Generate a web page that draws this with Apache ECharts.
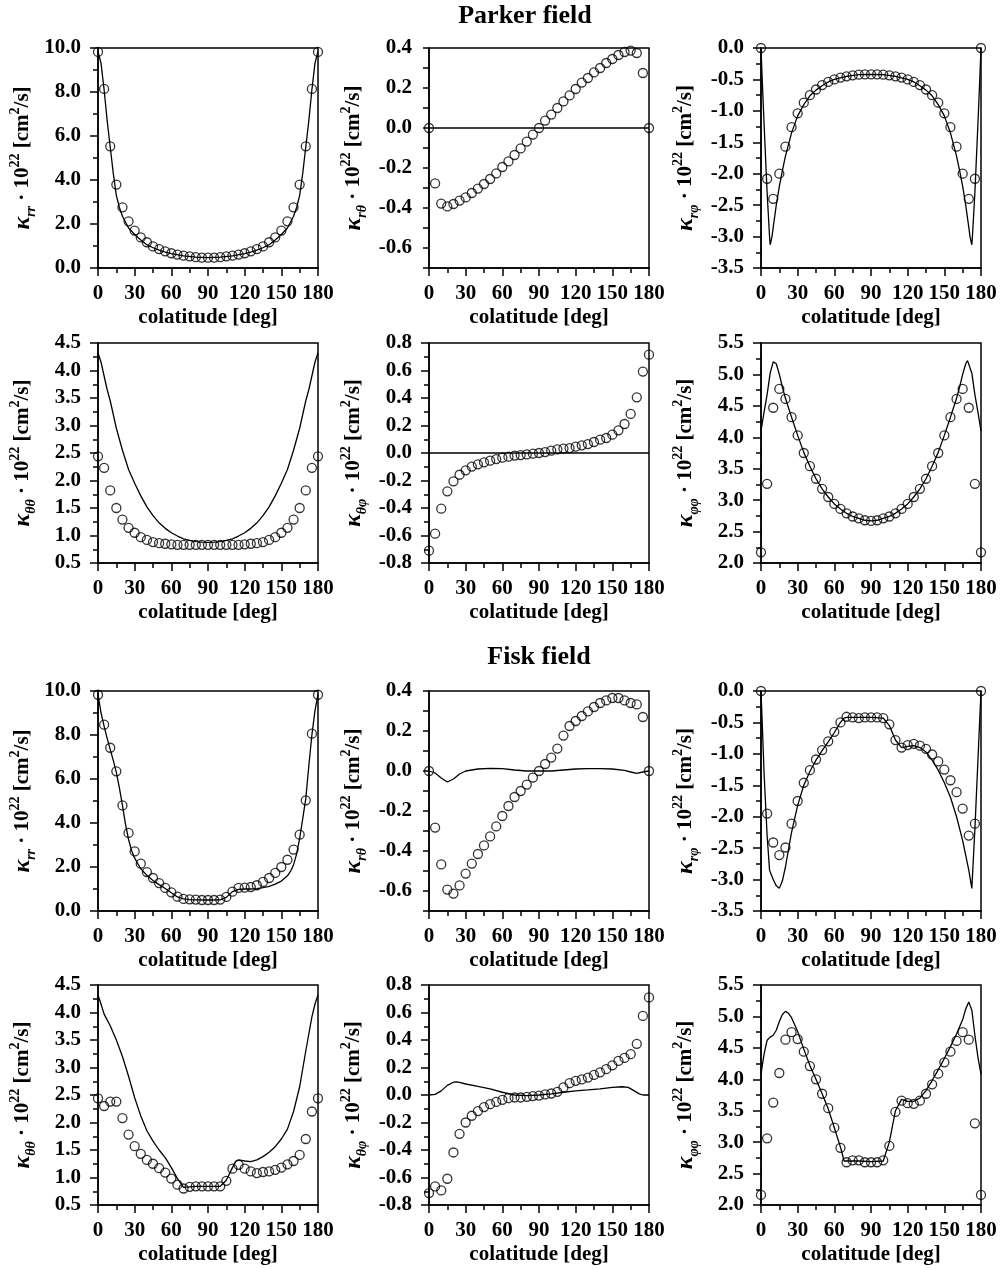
<!DOCTYPE html>
<html>
<head>
<meta charset="utf-8">
<script src="https://cdn.jsdelivr.net/npm/echarts@6/dist/echarts.min.js"></script>
<style>
  html, body { margin: 0; padding: 0; background: #fff; }
  #chart { width: 1003px; height: 1269px; }
</style>
</head>
<body>
<div id="chart"></div>
<script>
// Colatitudes of the sampled diffusion-tensor components (degrees)
const colatitudes = [0, 5, 10, 15, 20, 25, 30, 35, 40, 45, 50, 55, 60, 65, 70, 75, 80, 85, 90,
  95, 100, 105, 110, 115, 120, 125, 130, 135, 140, 145, 150, 155, 160, 165, 170, 175, 180];

// ---- Parker field: sampled components (circles) ----
const parkerRr = [9.82, 8.14, 5.53, 3.79, 2.76, 2.12, 1.70, 1.39, 1.17, 0.98, 0.86, 0.76, 0.67, 0.61, 0.56, 0.53, 0.49, 0.47, 0.47,
  0.47, 0.49, 0.53, 0.56, 0.61, 0.67, 0.76, 0.86, 0.98, 1.17, 1.39, 1.70, 2.12, 2.76, 3.79, 5.53, 8.14, 9.82];
const parkerRt = [0, -0.277, -0.378, -0.392, -0.38, -0.363, -0.347, -0.325, -0.303, -0.28, -0.255, -0.227, -0.195, -0.167, -0.135, -0.102, -0.068, -0.033, 0.0,
  0.037, 0.067, 0.1, 0.133, 0.163, 0.195, 0.227, 0.25, 0.278, 0.30, 0.325, 0.345, 0.365, 0.38, 0.387, 0.375, 0.275, 0];
const parkerRp = [0, -2.08, -2.40, -2.00, -1.57, -1.26, -1.04, -0.87, -0.75, -0.66, -0.59, -0.54, -0.50, -0.47, -0.45, -0.435, -0.425, -0.42, -0.42,
  -0.42, -0.425, -0.435, -0.45, -0.47, -0.50, -0.54, -0.59, -0.66, -0.75, -0.87, -1.04, -1.26, -1.57, -2.00, -2.40, -2.08, 0];
const parkerTt = [2.44, 2.23, 1.82, 1.50, 1.29, 1.14, 1.05, 0.97, 0.92, 0.88, 0.86, 0.85, 0.84, 0.83, 0.83, 0.83, 0.83, 0.83, 0.83,
  0.83, 0.83, 0.83, 0.83, 0.83, 0.84, 0.85, 0.86, 0.88, 0.92, 0.97, 1.05, 1.14, 1.29, 1.50, 1.82, 2.23, 2.44];
const parkerTp = [-0.71, -0.587, -0.405, -0.279, -0.206, -0.158, -0.126, -0.099, -0.082, -0.068, -0.056, -0.044, -0.034, -0.027, -0.019, -0.015, -0.01, -0.005, 0,
  0.007, 0.017, 0.027, 0.032, 0.036, 0.046, 0.056, 0.065, 0.08, 0.097, 0.109, 0.133, 0.165, 0.211, 0.284, 0.405, 0.592, 0.715];
const parkerPp = [2.17, 3.26, 4.47, 4.77, 4.61, 4.32, 4.03, 3.75, 3.54, 3.34, 3.18, 3.05, 2.94, 2.86, 2.79, 2.74, 2.71, 2.68, 2.67,
  2.68, 2.71, 2.74, 2.79, 2.86, 2.94, 3.05, 3.18, 3.34, 3.54, 3.75, 4.03, 4.32, 4.61, 4.77, 4.47, 3.26, 2.17];

// ---- Parker field: model curves [colatitude, value] ----
const parkerRrModel = [[0, 9.85], [2.5, 9.3], [5, 8.1], [7.5, 6.7], [10, 5.5], [12.5, 4.3], [15, 3.3], [17.5, 2.75], [20, 2.35], [25, 1.82],
  [30, 1.52], [35, 1.27], [40, 1.06], [45, 0.92], [50, 0.81], [55, 0.72], [60, 0.65], [70, 0.55], [80, 0.49], [90, 0.47],
  [100, 0.49], [110, 0.55], [120, 0.65], [125, 0.72], [130, 0.81], [135, 0.92], [140, 1.06], [145, 1.27], [150, 1.52], [155, 1.82],
  [160, 2.35], [162.5, 2.75], [165, 3.3], [167.5, 4.3], [170, 5.5], [172.5, 6.7], [175, 8.1], [177.5, 9.3], [180, 9.85]];
const parkerRtModel = [[0, 0], [180, 0]];
const parkerRpModel = [[0, 0], [1, -0.5], [2.5, -1.2], [5, -2.3], [7, -3.0], [7.5, -3.13], [9, -3.0], [10, -2.85], [12.5, -2.5], [15, -2.2],
  [17.5, -1.95], [20, -1.72], [25, -1.35], [30, -1.08], [35, -0.9], [40, -0.76], [45, -0.67], [50, -0.6], [55, -0.54], [60, -0.5],
  [70, -0.45], [80, -0.425], [90, -0.42], [100, -0.425], [110, -0.45], [120, -0.5], [125, -0.54], [130, -0.6], [135, -0.67], [140, -0.76],
  [145, -0.9], [150, -1.08], [155, -1.35], [160, -1.72], [162.5, -1.95], [165, -2.2], [167.5, -2.5], [170, -2.85], [171, -3.0],
  [172.5, -3.13], [173, -3.0], [175, -2.3], [177.5, -1.2], [179, -0.5], [180, 0]];
const parkerTtModel = [[0, 4.32], [2.5, 4.15], [5, 3.9], [7.5, 3.65], [10, 3.45], [15, 2.95], [20, 2.55], [25, 2.2], [30, 1.95], [35, 1.72],
  [40, 1.52], [45, 1.36], [50, 1.23], [55, 1.13], [60, 1.05], [65, 0.99], [70, 0.94], [75, 0.91], [80, 0.89], [85, 0.88], [90, 0.875],
  [95, 0.88], [100, 0.89], [105, 0.91], [110, 0.94], [115, 0.99], [120, 1.05], [125, 1.13], [130, 1.23], [135, 1.36], [140, 1.52],
  [145, 1.72], [150, 1.95], [155, 2.2], [160, 2.55], [165, 2.95], [170, 3.45], [172.5, 3.65], [175, 3.9], [177.5, 4.15], [180, 4.32]];
const parkerTpModel = [[0, 0], [180, 0]];
const parkerPpModel = [[0, 4.1], [2.5, 4.4], [5, 4.68], [7.5, 5.02], [10, 5.2], [11, 5.22], [12.5, 5.17], [15, 5.0], [17.5, 4.8], [20, 4.62],
  [25, 4.32], [30, 4.03], [35, 3.76], [40, 3.54], [45, 3.34], [50, 3.18], [55, 3.05], [60, 2.94], [65, 2.86], [70, 2.79], [75, 2.74],
  [80, 2.71], [85, 2.68], [90, 2.67], [95, 2.68], [100, 2.71], [105, 2.74], [110, 2.79], [115, 2.86], [120, 2.94], [125, 3.05],
  [130, 3.18], [135, 3.34], [140, 3.54], [145, 3.76], [150, 4.03], [155, 4.32], [160, 4.62], [162.5, 4.8], [165, 5.0], [167.5, 5.17],
  [169, 5.22], [170, 5.2], [172.5, 5.02], [175, 4.68], [177.5, 4.4], [180, 4.1]];

// ---- Fisk field: sampled components (circles) ----
const fiskRr = [9.83, 8.47, 7.42, 6.35, 4.80, 3.55, 2.71, 2.15, 1.77, 1.50, 1.27, 1.05, 0.85, 0.65, 0.55, 0.53, 0.52, 0.50, 0.50,
  0.50, 0.52, 0.64, 0.88, 1.05, 1.06, 1.09, 1.17, 1.32, 1.50, 1.73, 2.00, 2.33, 2.79, 3.47, 5.03, 8.06, 9.83];
const fiskRt = [0, -0.283, -0.467, -0.593, -0.613, -0.572, -0.513, -0.463, -0.415, -0.372, -0.327, -0.277, -0.225, -0.175, -0.13, -0.1, -0.068, -0.033, 0,
  0.035, 0.067, 0.112, 0.177, 0.225, 0.25, 0.275, 0.298, 0.32, 0.34, 0.353, 0.365, 0.365, 0.353, 0.34, 0.333, 0.27, 0];
const fiskRp = [0, -1.95, -2.41, -2.61, -2.49, -2.11, -1.75, -1.46, -1.26, -1.09, -0.94, -0.80, -0.65, -0.50, -0.41, -0.42, -0.43, -0.42, -0.42,
  -0.42, -0.43, -0.53, -0.78, -0.90, -0.86, -0.84, -0.87, -0.92, -1.01, -1.12, -1.25, -1.42, -1.61, -1.87, -2.30, -2.11, 0];
const fiskTt = [2.44, 2.30, 2.38, 2.38, 2.08, 1.78, 1.57, 1.43, 1.32, 1.25, 1.17, 1.09, 0.98, 0.87, 0.80, 0.83, 0.84, 0.84, 0.84,
  0.84, 0.84, 0.94, 1.16, 1.23, 1.16, 1.11, 1.08, 1.10, 1.11, 1.14, 1.18, 1.24, 1.30, 1.41, 1.70, 2.20, 2.44];
const fiskTp = [-0.713, -0.665, -0.694, -0.609, -0.418, -0.282, -0.2, -0.151, -0.117, -0.088, -0.067, -0.05, -0.035, -0.023, -0.018, -0.018, -0.013, -0.008, -0.004,
  0.004, 0.011, 0.023, 0.055, 0.086, 0.103, 0.113, 0.127, 0.146, 0.165, 0.188, 0.216, 0.248, 0.27, 0.297, 0.372, 0.575, 0.71];
const fiskPp = [2.16, 3.06, 3.63, 4.10, 4.63, 4.75, 4.64, 4.44, 4.21, 4.00, 3.77, 3.54, 3.23, 2.91, 2.68, 2.71, 2.71, 2.68, 2.68,
  2.68, 2.71, 2.94, 3.48, 3.66, 3.62, 3.61, 3.66, 3.77, 3.92, 4.09, 4.27, 4.44, 4.61, 4.75, 4.63, 3.30, 2.16];

// ---- Fisk field: model curves [colatitude, value] ----
const fiskRrModel = [[0, 9.85], [2.5, 9.0], [5, 8.4], [7.5, 7.85], [10, 7.35], [12.5, 6.85], [15, 6.3], [17.5, 5.6], [20, 4.8], [22.5, 3.95],
  [25, 3.25], [27.5, 2.75], [30, 2.4], [35, 1.92], [40, 1.62], [45, 1.39], [50, 1.2], [55, 1.02], [60, 0.83], [65, 0.64], [70, 0.55],
  [75, 0.52], [80, 0.51], [90, 0.5], [100, 0.51], [105, 0.62], [110, 0.88], [115, 0.98], [120, 1.0], [125, 1.0], [130, 1.02],
  [135, 1.06], [140, 1.12], [145, 1.22], [150, 1.36], [155, 1.6], [158, 1.85], [160, 2.1], [162.5, 2.6], [165, 3.3], [167.5, 4.2],
  [170, 5.1], [172.5, 6.6], [175, 8.0], [177.5, 9.1], [180, 9.85]];
const fiskRtModel = [[0, 0], [5, -0.01], [10, -0.035], [15, -0.055], [20, -0.04], [25, -0.015], [30, 0.0], [40, 0.01], [50, 0.013],
  [60, 0.012], [70, 0.005], [80, 0.0], [90, 0.0], [100, 0.0], [110, 0.005], [120, 0.01], [130, 0.012], [140, 0.012], [150, 0.01],
  [160, 0.003], [165, -0.005], [170, -0.012], [175, -0.005], [180, 0]];
const fiskRpModel = [[0, 0], [1, -0.5], [2.5, -1.3], [5, -2.3], [7, -2.85], [10, -3.0], [12.5, -3.1], [15, -3.14], [17.5, -3.02], [20, -2.8],
  [22.5, -2.52], [25, -2.25], [30, -1.82], [35, -1.5], [40, -1.28], [45, -1.1], [50, -0.95], [55, -0.81], [60, -0.66], [65, -0.5],
  [68, -0.43], [70, -0.42], [80, -0.42], [90, -0.42], [100, -0.43], [105, -0.55], [110, -0.78], [115, -0.9], [120, -0.88],
  [125, -0.87], [130, -0.9], [135, -0.97], [140, -1.1], [145, -1.26], [150, -1.46], [155, -1.69], [160, -2.0], [165, -2.38],
  [170, -2.85], [172.5, -3.14], [175, -2.2], [177.5, -1.1], [180, 0]];
const fiskTtModel = [[0, 4.32], [2.5, 4.15], [5, 3.97], [10, 3.76], [15, 3.5], [20, 3.2], [25, 2.84], [30, 2.45], [35, 2.12], [40, 1.85],
  [45, 1.66], [50, 1.5], [55, 1.36], [60, 1.18], [65, 0.98], [70, 0.82], [75, 0.83], [80, 0.84], [90, 0.84], [100, 0.84], [105, 0.95],
  [110, 1.18], [113, 1.3], [115, 1.32], [120, 1.3], [125, 1.29], [130, 1.32], [135, 1.38], [140, 1.46], [145, 1.56], [150, 1.7],
  [155, 1.88], [160, 2.2], [165, 2.65], [170, 3.3], [175, 3.92], [177.5, 4.15], [180, 4.32]];
const fiskTpModel = [[0, 0], [5, 0.005], [10, 0.03], [15, 0.07], [20, 0.093], [22.5, 0.096], [25, 0.092], [30, 0.08], [40, 0.062],
  [50, 0.045], [60, 0.02], [70, 0.0], [80, -0.005], [90, 0.0], [100, 0.008], [110, 0.02], [120, 0.03], [130, 0.037], [140, 0.045],
  [150, 0.055], [158, 0.06], [163, 0.055], [168, 0.03], [172, 0.008], [175, 0.0], [180, 0]];
const fiskPpModel = [[0, 4.08], [2.5, 4.4], [5, 4.62], [7.5, 4.67], [10, 4.7], [12.5, 4.78], [15, 4.92], [17.5, 5.03], [20, 5.08],
  [22.5, 5.05], [25, 4.98], [30, 4.76], [35, 4.48], [40, 4.22], [45, 4.0], [50, 3.77], [55, 3.53], [60, 3.23], [65, 2.92], [68, 2.7],
  [70, 2.7], [80, 2.7], [90, 2.69], [100, 2.7], [105, 3.0], [110, 3.5], [115, 3.68], [120, 3.65], [125, 3.65], [130, 3.7], [135, 3.82],
  [140, 3.98], [145, 4.15], [150, 4.33], [155, 4.52], [160, 4.72], [165, 4.95], [167.5, 5.12], [170, 5.23], [172.5, 5.1], [175, 4.7],
  [177.5, 4.35], [180, 4.08]];

// Tick labels of the colatitude axis
const colatTicks = [0, 30, 60, 90, 120, 150, 180];

// Panel descriptions: tensor component, y range, and data
const panels = [
  { col: 0, row: 0, sub: 'rr', min: 0, max: 10, step: 2, circles: parkerRr, model: parkerRrModel },
  { col: 1, row: 0, sub: 'rθ', min: -0.7, max: 0.4, step: 0.1, labelEvery: 2, circles: parkerRt, model: parkerRtModel },
  { col: 2, row: 0, sub: 'rφ', min: -3.5, max: 0, step: 0.5, circles: parkerRp, model: parkerRpModel },
  { col: 0, row: 1, sub: 'θθ', min: 0.5, max: 4.5, step: 0.5, circles: parkerTt, model: parkerTtModel },
  { col: 1, row: 1, sub: 'θφ', min: -0.8, max: 0.8, step: 0.2, circles: parkerTp, model: parkerTpModel },
  { col: 2, row: 1, sub: 'φφ', min: 2.0, max: 5.5, step: 0.5, circles: parkerPp, model: parkerPpModel },
  { col: 0, row: 2, sub: 'rr', min: 0, max: 10, step: 2, circles: fiskRr, model: fiskRrModel },
  { col: 1, row: 2, sub: 'rθ', min: -0.7, max: 0.4, step: 0.1, labelEvery: 2, circles: fiskRt, model: fiskRtModel },
  { col: 2, row: 2, sub: 'rφ', min: -3.5, max: 0, step: 0.5, circles: fiskRp, model: fiskRpModel },
  { col: 0, row: 3, sub: 'θθ', min: 0.5, max: 4.5, step: 0.5, circles: fiskTt, model: fiskTtModel },
  { col: 1, row: 3, sub: 'θφ', min: -0.8, max: 0.8, step: 0.2, circles: fiskTp, model: fiskTpModel },
  { col: 2, row: 3, sub: 'φφ', min: 2.0, max: 5.5, step: 0.5, circles: fiskPp, model: fiskPpModel }
];

const FONT = '"Liberation Serif", "Times New Roman", serif';
const gridLeft = [98, 429, 761];
const gridTop = [48, 343, 691, 985];
const PLOT = 220;
const axisStroke = { color: '#000', width: 1.5 };

const nameRich = {
  k: { fontFamily: FONT, fontStyle: 'italic', fontWeight: 'bold', fontSize: 24, lineHeight: 30, color: '#000' },
  s: { fontFamily: FONT, fontStyle: 'italic', fontWeight: 'bold', fontSize: 14, lineHeight: 13, verticalAlign: 'bottom', color: '#000' },
  n: { fontFamily: FONT, fontWeight: 'bold', fontSize: 21, lineHeight: 30, color: '#000' },
  p: { fontFamily: FONT, fontWeight: 'bold', fontSize: 14, lineHeight: 14, verticalAlign: 'top', color: '#000' }
};
const yName = sub => '{k|κ}{s|' + sub + '}{n| · 10}{p|22}{n| [cm}{p|2}{n|/s]}';

const grids = [], xAxes = [], yAxes = [], series = [];
panels.forEach((p, i) => {
  grids.push({
    left: gridLeft[p.col], top: gridTop[p.row], width: PLOT, height: PLOT,
    show: true, borderColor: '#000', borderWidth: 1.5, backgroundColor: 'transparent'
  });
  xAxes.push({
    type: 'value', gridIndex: i, min: colatTicks[0], max: colatTicks[colatTicks.length - 1], interval: 30,
    axisLine: { show: true, onZero: false, lineStyle: axisStroke },
    axisTick: { show: true, length: 8, lineStyle: axisStroke },
    minorTick: { show: true, splitNumber: 2, length: 5, lineStyle: axisStroke },
    splitLine: { show: false }, minorSplitLine: { show: false },
    axisLabel: { fontFamily: FONT, fontWeight: 'bold', fontSize: 21, color: '#000', margin: 15 },
    name: 'colatitude [deg]', nameLocation: 'middle', nameGap: 39,
    nameTextStyle: { fontFamily: FONT, fontWeight: 'bold', fontSize: 21, color: '#000' }
  });
  const every = p.labelEvery || 1;
  yAxes.push({
    type: 'value', gridIndex: i, min: p.min, max: p.max, interval: p.step,
    axisLine: { show: true, onZero: false, lineStyle: axisStroke },
    axisTick: { show: true, length: every > 1 ? 6 : 8, lineStyle: axisStroke },
    minorTick: { show: every === 1, splitNumber: 2, length: 5, lineStyle: axisStroke },
    splitLine: { show: false }, minorSplitLine: { show: false },
    axisLabel: {
      fontFamily: FONT, fontWeight: 'bold', fontSize: 21, color: '#000', margin: 17,
      formatter: v => {
        const k = Math.round(v / p.step);
        if (every > 1 && Math.abs(k) % every !== 0) return '';
        return (Math.round(v * 10) / 10).toFixed(1);
      }
    },
    name: yName(p.sub), nameLocation: 'middle', nameRotate: 90, nameGap: 60,
    nameTextStyle: { rich: nameRich }
  });
  series.push({
    type: 'line', xAxisIndex: i, yAxisIndex: i, data: p.model,
    symbol: 'none', smooth: false, lineStyle: { color: '#000', width: 1.3 }, z: 2, silent: true
  });
  series.push({
    type: 'scatter', xAxisIndex: i, yAxisIndex: i,
    data: colatitudes.map((c, j) => [c, p.circles[j]]),
    symbol: 'circle', symbolSize: 9,
    itemStyle: { color: 'rgba(0,0,0,0)', borderColor: '#000', borderWidth: 1.3 }, z: 3, silent: true
  });
});

const titleStyle = (text, x, y) => ({
  type: 'text', x: x, y: y,
  style: {
    text: text, fill: '#000', font: 'bold 26px ' + FONT,
    align: 'center', verticalAlign: 'middle', textAlign: 'center', textVerticalAlign: 'middle'
  }
});

const chart = echarts.init(document.getElementById('chart'), null, { renderer: 'canvas' });
chart.setOption({
  animation: false,
  backgroundColor: '#fff',
  graphic: [titleStyle('Parker field', 525, 16), titleStyle('Fisk field', 539, 657)],
  grid: grids,
  xAxis: xAxes,
  yAxis: yAxes,
  series: series
});
</script>
</body>
</html>
